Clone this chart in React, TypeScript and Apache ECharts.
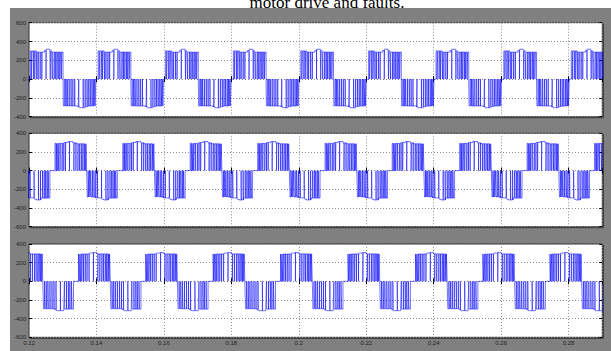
import React, { useEffect, useRef } from "react";
import * as echarts from "echarts";

const TITLE = "motor drive and faults.";
const X_MIN = 0.12;
const X_MAX = 0.29;
const X_STEP = 0.02;
const Y_STEP = 200;
const Y_RANGES = [
  [-400, 600],
  [-600, 400],
  [-600, 400],
];

// start time of each positive block (s)
const P1_STARTS = [0.1003, 0.1204, 0.1405, 0.1605, 0.1806, 0.2006, 0.2207, 0.2407, 0.2608, 0.2808];
const P2_STARTS = [0.0877, 0.1077, 0.1277, 0.1478, 0.1678, 0.1878, 0.2078, 0.2277, 0.2477, 0.2677, 0.2877];
const P3_STARTS = [0.0947, 0.1147, 0.1347, 0.1546, 0.1746, 0.1946, 0.2146, 0.2346, 0.2546, 0.2745];

// block edges in ms from period start: [posStart, posEnd, negStart, negEnd]
const P1_BLOCKS = [0, 9.7, 9.8, 19.4];
const P2_BLOCKS = [0, 9.4, 9.6, 18.5];
const P3_BLOCKS = [0, 9.4, 9.6, 18.5];

// pulse levels (V) from ms into block
const P1_POS_LEVEL = [[0, 300], [1.8, 287], [4.2, 305], [4.7, 318], [5.8, 302], [6.3, 288]];
const P1_NEG_LEVEL = [[0, -286], [4.4, -297], [4.9, -305], [6.4, -293], [7.2, -287]];
const P2_POS_LEVEL = [[0, 292], [2.6, 302], [3.9, 312], [5.3, 298], [6.3, 288]];
const P2_NEG_LEVEL = [[0, -282], [2.4, -292], [4.4, -306], [4.9, -314], [6.2, -294]];
const P3_POS_LEVEL = [[0, 293], [3.3, 303], [4.0, 308], [5.4, 294]];
const P3_NEG_LEVEL = [[0, -294], [3.4, -305], [3.9, -315], [6.0, -298]];

// PWM notches to zero: [ms into block, width ms]
const P1_POS_NOTCH = [[0.3, 0.2], [0.9, 0.12], [1.3, 0.16], [1.9, 0.08], [2.3, 0.1], [2.9, 0.05], [3.4, 0.06], [4.65, 0.04], [5.9, 0.08], [6.5, 0.05], [7.05, 0.1], [7.5, 0.07], [7.9, 0.14], [8.4, 0.1], [8.75, 0.18], [9.2, 0.15]];
const P1_NEG_NOTCH = [[0.3, 0.22], [0.75, 0.12], [1.15, 0.14], [1.7, 0.08], [2.25, 0.1], [2.8, 0.06], [3.35, 0.05], [4.55, 0.05], [5.85, 0.07], [6.45, 0.06], [7.0, 0.1], [7.5, 0.08], [7.95, 0.13], [8.45, 0.12], [8.85, 0.2], [9.25, 0.15]];
const P2_POS_NOTCH = [[0.25, 0.22], [0.65, 0.14], [1.0, 0.18], [1.5, 0.1], [2.1, 0.12], [2.6, 0.06], [3.1, 0.09], [4.3, 0.05], [5.6, 0.08], [6.2, 0.06], [6.8, 0.1], [7.3, 0.08], [7.8, 0.14], [8.25, 0.12], [8.7, 0.2], [9.05, 0.15]];
const P2_NEG_NOTCH = [[0.25, 0.2], [0.65, 0.16], [1.0, 0.18], [1.5, 0.1], [1.95, 0.14], [2.5, 0.06], [3.0, 0.1], [4.2, 0.05], [5.5, 0.06], [6.1, 0.07], [6.7, 0.1], [7.2, 0.08], [7.6, 0.14], [8.05, 0.12], [8.4, 0.18]];
const P3_POS_NOTCH = [[0.2, 0.2], [0.6, 0.12], [0.95, 0.16], [1.45, 0.08], [1.95, 0.12], [2.5, 0.06], [3.1, 0.05], [4.4, 0.04], [5.7, 0.09], [6.3, 0.06], [6.9, 0.11], [7.4, 0.08], [7.9, 0.15], [8.3, 0.1], [8.7, 0.2], [9.05, 0.15]];
const P3_NEG_NOTCH = [[0.3, 0.2], [0.8, 0.12], [1.3, 0.15], [1.9, 0.07], [2.5, 0.11], [3.1, 0.05], [3.7, 0.07], [5.0, 0.06], [6.2, 0.08], [6.8, 0.06], [7.35, 0.12], [7.8, 0.09], [8.3, 0.18]];

function levelAt(env: number[][], ms: number) {
  let L = env[0][1];
  for (const [t, l] of env) if (ms >= t) L = l;
  return L;
}

function addBlock(pts: number[][], s: number, a: number, b: number, env: number[][], notches: number[][]) {
  const T = (ms: number) => s + ms / 1000;
  const segs: number[][] = [];
  let segStart = a;
  for (const [n, w] of notches) {
    const ns = a + n;
    const ne = a + n + w;
    if (ne >= b) break;
    segs.push([segStart, ns]);
    segStart = ne;
  }
  segs.push([segStart, b]);
  for (const [p, q] of segs) {
    let L = levelAt(env, p - a);
    pts.push([T(p), 0], [T(p), L]);
    for (const [t, l] of env) {
      const tt = a + t;
      if (tt > p && tt < q) {
        pts.push([T(tt), L], [T(tt), l]);
        L = l;
      }
    }
    pts.push([T(q), L], [T(q), 0]);
  }
}

function buildWave(starts: number[], blocks: number[], posL: number[][], negL: number[][], posN: number[][], negN: number[][]) {
  const pts: number[][] = [];
  for (const s of starts) {
    addBlock(pts, s, blocks[0], blocks[1], posL, posN);
    addBlock(pts, s, blocks[2], blocks[3], negL, negN);
  }
  return pts;
}

const WAVES = [
  buildWave(P1_STARTS, P1_BLOCKS, P1_POS_LEVEL, P1_NEG_LEVEL, P1_POS_NOTCH, P1_NEG_NOTCH),
  buildWave(P2_STARTS, P2_BLOCKS, P2_POS_LEVEL, P2_NEG_LEVEL, P2_POS_NOTCH, P2_NEG_NOTCH),
  buildWave(P3_STARTS, P3_BLOCKS, P3_POS_LEVEL, P3_NEG_LEVEL, P3_POS_NOTCH, P3_NEG_NOTCH),
];

const GRID_TOPS = [22.7, 133.3, 244];
const GRID_H = [94, 93.4, 93.3];

function buildOption() {
  const grids: any[] = [];
  const xAxes: any[] = [];
  const yAxes: any[] = [];
  const series: any[] = [];
  const dotted = { color: "#8c8c8c", width: 1, type: [1, 2] };
  const tick = { show: true, inside: true, length: 3, lineStyle: { color: "#000", width: 1 } };
  for (let i = 0; i < 3; i++) {
    grids.push({
      left: 29,
      top: GRID_TOPS[i],
      width: 573.3,
      height: GRID_H[i],
      show: true,
      backgroundColor: "#ffffff",
      borderColor: "#3a3a3a",
      borderWidth: 1,
      shadowColor: "rgba(0,0,0,0.6)",
      shadowBlur: 1,
      shadowOffsetX: 1,
      shadowOffsetY: 1,
    });
    const xBase = {
      type: "value",
      gridIndex: i,
      min: X_MIN,
      max: X_MAX,
      interval: X_STEP,
      axisLine: { show: false },
      axisTick: tick,
    };
    xAxes.push({
      ...xBase,
      position: "bottom",
      splitLine: { show: true, lineStyle: dotted },
      axisLabel: {
        show: i === 2,
        showMaxLabel: false,
        fontSize: 6,
        color: "#222",
        margin: 3,
        fontFamily: "Liberation Sans",
        formatter: (v: number) => String(+v.toFixed(2)),
      },
    });
    xAxes.push({
      ...xBase,
      position: "top",
      splitLine: { show: false },
      axisLabel: { show: false },
    });
    const yBase = {
      type: "value",
      gridIndex: i,
      min: Y_RANGES[i][0],
      max: Y_RANGES[i][1],
      interval: Y_STEP,
      axisLine: { show: false },
      axisTick: tick,
    };
    yAxes.push({
      ...yBase,
      position: "left",
      splitLine: { show: true, lineStyle: dotted },
      axisLabel: { show: true, fontSize: 6, color: "#222", margin: 3, fontFamily: "Liberation Sans" },
    });
    yAxes.push({
      ...yBase,
      position: "right",
      splitLine: { show: false },
      axisLabel: { show: false },
    });
    series.push({
      type: "line",
      xAxisIndex: 2 * i,
      yAxisIndex: 2 * i,
      data: WAVES[i],
      showSymbol: false,
      symbol: "none",
      clip: true,
      lineStyle: { color: "#0000ff", width: 0.55 },
      z: 5,
    });
  }
  return {
    animation: false,
    backgroundColor: "transparent",
    graphic: {
      elements: [
        {
          type: "text",
          x: 327,
          y: 11,
          style: {
            text: TITLE,
            fill: "#000",
            font: "17px 'Liberation Serif'",
            textAlign: "center",
            textVerticalAlign: "bottom",
          },
        },
      ],
    },
    grid: grids,
    xAxis: xAxes,
    yAxis: yAxes,
    series,
  };
}

export default function App() {
  const ref = useRef<HTMLDivElement>(null);
  useEffect(() => {
    const chart = echarts.init(ref.current!, null, { renderer: "svg", width: 611, height: 351 });
    chart.setOption(buildOption() as any);
    return () => chart.dispose();
  }, []);
  return (
    <div style={{ position: "fixed", left: 0, top: 0, width: 611, height: 351, background: "#fff", overflow: "hidden" }}>
      <div style={{ position: "absolute", left: 10, top: 8, width: 601, height: 343, background: "#808080" }} />
      <div ref={ref} style={{ position: "absolute", left: 0, top: 0, width: 611, height: 351 }} />
    </div>
  );
}
